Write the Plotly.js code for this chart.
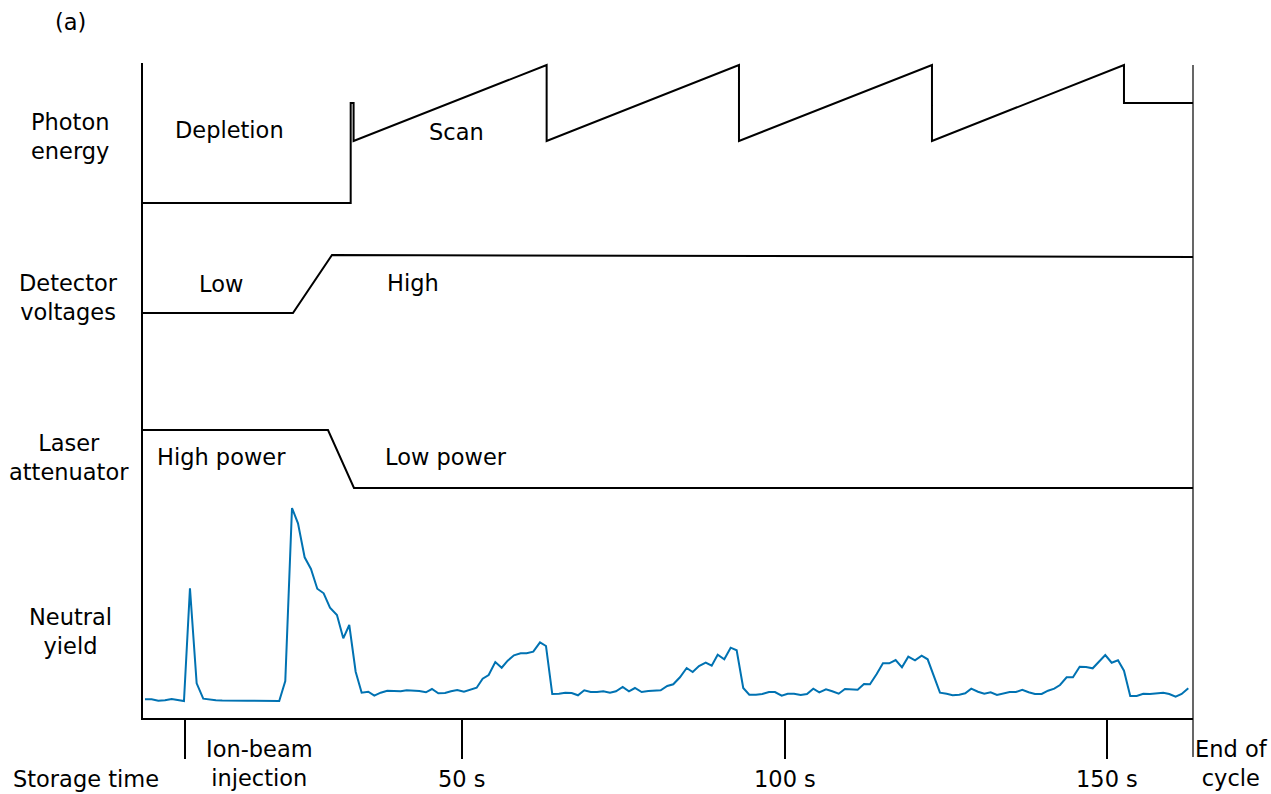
<!DOCTYPE html>
<html>
<head>
<meta charset="utf-8">
<script src="https://cdn.plot.ly/plotly-3.0.1.min.js"></script>
<style>html,body{margin:0;padding:0;background:#fff;}#chart{width:1271px;height:794px;}</style>
</head>
<body>
<div id="chart"></div>
<script>
// ---- Data (time in seconds, levels in arbitrary schematic units) ----
const photonTime  = [0, 32.67, 32.67, 33.12, 33.12, 63.05, 63.05, 92.87, 92.87, 122.79, 122.79, 152.56, 152.56, 163.3];
const photonLevel = [515, 515, 615, 615, 577, 653, 577, 653, 577, 653, 577, 653, 615, 615];

const detectorTime  = [0, 23.72, 29.77, 163.3];
const detectorLevel = [405, 405, 463, 461];

const laserTime  = [0, 29.15, 33.18, 163.3];
const laserLevel = [288, 288, 230, 230];

const yieldTime = [0.78, 1.81, 2.84, 3.88, 4.91, 5.94, 6.82, 7.75, 8.79, 9.81, 10.79, 11.77, 12.75, 13.74, 14.72, 15.7, 16.68, 17.66, 18.65, 19.63, 20.61, 21.59,
  22.53, 23.57, 24.5, 25.53, 26.51, 27.49, 28.48, 29.46, 30.54, 31.52, 32.45, 33.44, 34.37, 35.4, 36.33, 37.32, 38.34, 39.38, 40.42, 41.35, 42.37, 43.3, 44.34, 45.27, 46.25, 47.29, 48.22, 49.19,
  50.23, 51.16, 52.2, 53.13, 54.06, 55.09, 56.08, 57.01, 57.98, 59.02, 59.95, 60.98, 62.02, 62.95, 63.92, 64.96, 65.94, 66.93, 67.91, 68.88, 69.88, 70.85, 71.83, 72.87, 73.8, 74.84, 75.81, 76.74, 77.78, 78.81, 79.74,
  80.73, 81.75, 82.68, 83.72, 84.76, 85.69, 86.67, 87.71, 88.64, 89.57, 90.59, 91.58, 92.51, 93.53, 94.47, 95.5, 96.48, 97.52, 98.45, 99.49, 100.42, 101.4, 102.44, 103.41, 104.39, 105.32, 106.36, 107.33, 108.33, 109.3,
  110.34, 111.27, 112.25, 113.18, 114.22, 115.19, 116.17, 117.16, 118.14, 119.12, 120.16, 121.19, 122.12, 123.1, 124.03, 125.07, 126.0, 127.02, 127.95, 128.88, 129.92, 130.9, 131.89, 132.87, 133.84, 134.84, 135.81, 136.79, 137.78, 138.76, 139.8,
  140.78, 141.75, 142.64, 143.67, 144.65, 145.69, 146.67, 147.71, 148.68, 149.66, 150.65, 151.63, 152.56, 153.53, 154.53, 155.55, 156.59, 157.63, 158.65, 159.58, 160.57, 161.5, 162.53];
const yieldValue = [18.7, 18.7, 17.3, 17.7, 19, 17.7, 17, 129.7, 34.7, 19.3, 18.3, 17.8, 17.5, 17.3, 17.2, 17.2, 17.3, 17.3, 17.4, 17.4, 17.5, 17,
  37, 210, 194.7, 160.7, 149, 129.3, 124.7, 110.3, 103, 79.7, 93, 46.3, 25.3, 26.3, 22.3, 25.3, 27.3, 27.3, 26.7, 27.7, 27.7, 27, 25.7, 29, 24.7, 25, 26.7, 28,
  26.3, 28, 30.3, 39.3, 43, 56, 50.3, 57.3, 62.7, 64.7, 64.7, 66.3, 75.7, 72, 24, 24.3, 25.3, 25, 22.7, 27.7, 26, 26, 26.7, 25.3, 26.7, 31, 26.7, 30, 26, 27, 27.7,
  27.7, 32, 33.7, 40.7, 50, 46, 52, 55.3, 52.3, 63.3, 58.7, 70.3, 67.7, 30, 23.3, 23.3, 24, 26, 26, 22.3, 24.3, 24.3, 23, 24, 29.3, 25.7, 28.7, 26.7, 24.3, 29,
  28.7, 28.3, 34, 33.7, 44, 54.7, 54.7, 58, 50.7, 61.3, 57.7, 62.3, 58.7, 42.3, 25.3, 24.3, 22.7, 23.3, 24.7, 29.3, 26.3, 24.3, 25.7, 23, 24.3, 26, 26, 28.3, 25.7, 24, 24,
  27.3, 29.3, 33, 40.7, 40.7, 51.3, 51, 49.7, 56.3, 63, 55.3, 57.7, 47.3, 22, 22, 24.3, 24, 24.3, 25.3, 24, 21.3, 24, 29.7];

const tickTimes = [7, 50, 100, 150];
const tickLabels = ["Ion-beam<br>injection", "50 s", "100 s", "150 s"];

// ---- Plot ----
const FONT = "DejaVu Sans, Bitstream Vera Sans, sans-serif";
const FS = 22.5;
const black = {color: "#000", width: 2};

const traces = [
  {x: photonTime, y: photonLevel, mode: "lines", line: black, hoverinfo: "skip"},
  {x: detectorTime, y: detectorLevel, mode: "lines", line: black, hoverinfo: "skip"},
  {x: laserTime, y: laserLevel, mode: "lines", line: black, hoverinfo: "skip"},
  {x: yieldTime, y: yieldValue, mode: "lines", line: {color: "#0072B2", width: 2}, hoverinfo: "skip"}
];

function ann(text, x, y, xref, yref) {
  return {text: text, x: x, y: y, xref: xref, yref: yref, showarrow: false,
    xanchor: "center", yanchor: "middle", font: {family: FONT, size: FS, color: "#000"}};
}

const annotations = [
  ann("(a)", -0.0695, 1.0626, "paper", "paper"),
  ann("Photon<br>energy", -0.0695, 582, "paper", "y"),
  ann("Detector<br>voltages", -0.0705, 421, "paper", "y"),
  ann("Laser<br>attenuator", -0.0705, 261, "paper", "y"),
  ann("Neutral<br>yield", -0.0695, 87, "paper", "y"),
  ann("Depletion", 13.95, 588, "x", "y"),
  ann("Scan", 49.15, 586, "x", "y"),
  ann("Low", 12.56, 434, "x", "y"),
  ann("High", 42.33, 435, "x", "y"),
  ann("High power", 12.71, 261, "x", "y"),
  ann("Low power", 47.44, 261, "x", "y"),
  ann("End of<br>cycle", 1.0362, -0.0702, "paper", "paper"),
  ann(tickLabels[0], 18.6, -0.0702, "x", "paper"),
  ann("Storage time", -0.0543, -0.0932, "paper", "paper")
];
for (let i = 1; i < tickTimes.length; i++) annotations.push(ann(tickLabels[i], tickTimes[i], -0.0932, "x", "paper"));

const layout = {
  width: 1271, height: 794,
  margin: {l: 143, r: 78, t: 63, b: 76, pad: 0},
  paper_bgcolor: "#fff", plot_bgcolor: "#fff",
  showlegend: false,
  xaxis: {range: [0.47, 163.26], showgrid: false, zeroline: false, showline: true, linecolor: "#000", linewidth: 2,
    ticks: "outside", ticklen: 39, tickwidth: 2, tickcolor: "#000", tickmode: "array", tickvals: tickTimes,
    showticklabels: false, fixedrange: true},
  yaxis: {range: [0, 655], showgrid: false, zeroline: false, showline: true, linecolor: "#000", linewidth: 2,
    ticks: "", showticklabels: false, fixedrange: true},
  shapes: [
    {type: "line", xref: "paper", yref: "paper", x0: 1, x1: 1, y0: -39/655, y1: 653/655, line: {color: "#000", width: 1.2}}
  ],
  annotations: annotations
};

Plotly.newPlot("chart", traces, layout, {staticPlot: true, displayModeBar: false});
</script>
</body>
</html>
